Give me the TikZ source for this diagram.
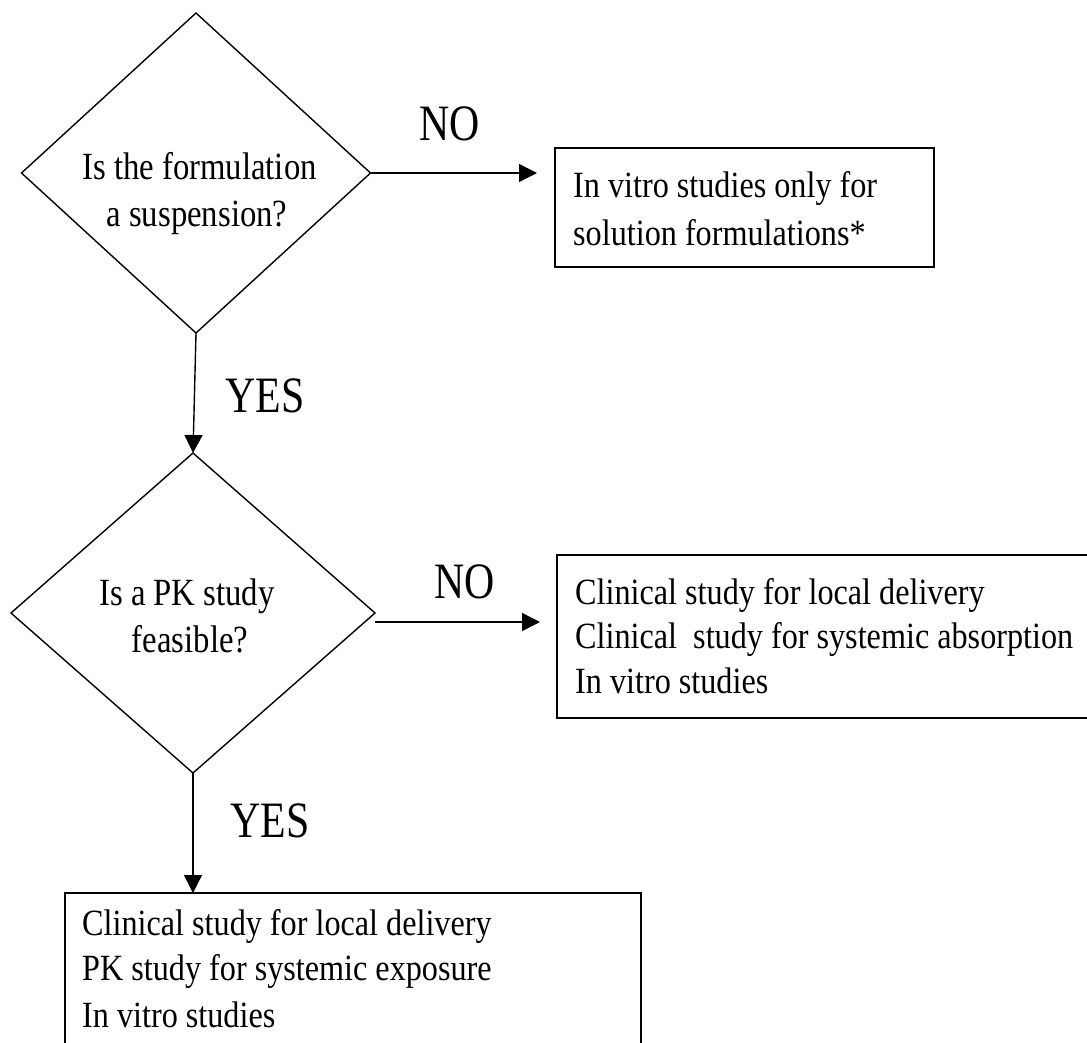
\documentclass[tikz,border=0pt]{standalone}
\usepackage{fontspec}
\setmainfont{Liberation Serif}
\newfontfamily\dfont[FakeStretch=0.85]{Liberation Serif}
\newfontfamily\bfont[FakeStretch=0.87]{Liberation Serif}
\newfontfamily\lfont[FakeStretch=0.82]{Liberation Serif}
\usetikzlibrary{shapes.geometric,arrows.meta}
\begin{document}
\begin{tikzpicture}[x=1pt,y=-1pt,
  dia/.style={draw, line width=1.4pt, diamond, inner sep=0pt, outer sep=0pt},
  box/.style={draw, line width=1.8pt, rectangle, inner sep=0pt, outer sep=0pt, anchor=north west},
  arr/.style={line width=1.4pt, -{Triangle[length=18pt,width=18pt]}},
  dtxt/.style={inner sep=0pt, anchor=base, font=\dfont\fontsize{38.5}{46}\selectfont},
  btxt/.style={inner sep=0pt, anchor=base west, font=\bfont\fontsize{37}{44}\selectfont},
  lab/.style={inner sep=0pt, anchor=base, font=\lfont\fontsize{51}{60}\selectfont}]
\useasboundingbox (0,0) rectangle (1087,1043);
\clip (0,0) rectangle (1087,1043);
\fill[white] (0,0) rectangle (1087,1043);

% decisions
\node[dia, minimum width=349pt, minimum height=320pt] (d1) at (196,173) {};
\node[dia, minimum width=364pt, minimum height=320pt] (d2) at (193,613) {};
\node[dtxt] (d1a) at (199.5,180) {Is the formulation};
\node[dtxt] (d1b) at (197,227) {a suspension?};
\node[dtxt] (d2a) at (187,605) {Is a PK study};
\node[dtxt] (d2b) at (190,652) {feasible?};

% boxes
\node[box, minimum width=379pt, minimum height=119pt] (b1) at (555,148) {};
\node[box, minimum width=540pt, minimum height=163pt] (b2) at (557,555) {};
\node[box, minimum width=576pt, minimum height=170pt] (b3) at (65,893) {};
\node[btxt] (b1a) at (573,198) {In vitro studies only for};
\node[btxt] (b1b) at (573,245) {solution formulations*};
\node[btxt] (b2a) at (575,604) {Clinical study for local delivery};
\node[btxt] (b2b) at (575,648) {Clinical\ \ study for systemic absorption};
\node[btxt] (b2c) at (575,693) {In vitro studies};
\node[btxt] (b3a) at (82,935) {Clinical study for local delivery};
\node[btxt] (b3b) at (82,980) {PK study for systemic exposure};
\node[btxt] (b3c) at (82,1027) {In vitro studies};

% labels
\node[lab] (no1) at (450,141) {NO};
\node[lab] (no2) at (465,598) {NO};
\node[lab] (yes1) at (265,412) {YES};
\node[lab] (yes2) at (270,837) {YES};

% connectors
\draw[arr, shorten >=18pt] (d1.east) -- (d1.east -| b1.west);
\draw[arr, shorten >=17pt] ([yshift=-9pt]d2.east) -- ([yshift=-9pt]d2.east -| b2.west);
\draw[arr] (d1.south) -- (d2.north);
\draw[arr] (d2.south) -- (d2.south |- b3.north);
\end{tikzpicture}
\end{document}
